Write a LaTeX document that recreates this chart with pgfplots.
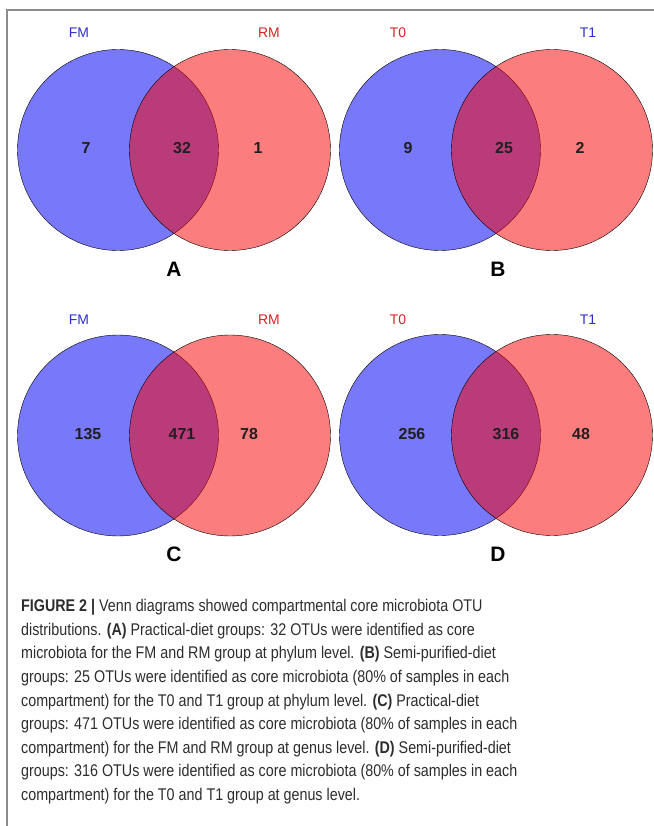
\documentclass[border=0pt]{standalone}
\usepackage{fontspec}
\setmainfont{Liberation Sans}
\newfontfamily\capfont[FakeStretch=0.845]{Liberation Sans}
\usepackage{pgfplots}
\pgfplotsset{compat=1.18}

\definecolor{setblue}{RGB}{0,0,245}
\definecolor{setred}{RGB}{250,0,0}
\definecolor{labblue}{RGB}{45,45,205}
\definecolor{labred}{RGB}{215,35,35}
\definecolor{framegray}{RGB}{140,140,140}
\definecolor{captext}{RGB}{45,45,45}

% circle centres (left set blue, right set red), one row per panel
\pgfplotstableread{
x y
118 150
440 150
118 435.5
440 435
}\leftsets
\pgfplotstableread{
x y
230 150
552 150
230 435.5
552 435
}\rightsets
% counts in each region
\pgfplotstableread{
x y n
86 148 7
182 148 32
258 148 1
408 148 9
504 148 25
580 148 2
88 434 135
182 434 471
249 434 78
412 434 256
506 434 316
581 434 48
}\counts

\begin{document}
\begin{tikzpicture}
\begin{axis}[
  width=654bp, height=826bp, scale only axis,
  xmin=0, xmax=654, ymin=0, ymax=826, y dir=reverse,
  hide axis, clip=false,
]
% frame
\draw[framegray, line width=1.4bp] (axis cs:7,826) -- (axis cs:7,10) -- (axis cs:654,10);

\addplot[only marks, mark=*, mark size=100.5bp,
  mark options={draw=none, fill=setblue, fill opacity=0.53}] table[x=x,y=y] {\leftsets};
\addplot[only marks, mark=*, mark size=100.5bp,
  mark options={draw=none, fill=setred, fill opacity=0.51}] table[x=x,y=y] {\rightsets};

\addplot[only marks, mark=none, point meta=explicit symbolic,
  nodes near coords,
  every node near coord/.append style={anchor=center, inner sep=0pt,
    font=\fontsize{16}{16}\selectfont\bfseries, text=black!88}]
  table[x=x, y=y, meta=n] {\counts};

% set names
\begin{scope}[every node/.style={font=\fontsize{14}{14}\selectfont, inner sep=0pt}]
\node[text=labblue] at (axis cs:79,33) {FM};
\node[text=labred]  at (axis cs:269,33) {RM};
\node[text=labred]  at (axis cs:398,33) {T0};
\node[text=labblue] at (axis cs:588,33) {T1};
\node[text=labblue] at (axis cs:79,319.5) {FM};
\node[text=labred]  at (axis cs:269,319.5) {RM};
\node[text=labred]  at (axis cs:398,319.5) {T0};
\node[text=labblue] at (axis cs:588,319.5) {T1};
\end{scope}

% panel letters
\begin{scope}[every node/.style={font=\fontsize{21}{21}\selectfont\bfseries, inner sep=0pt}]
\node at (axis cs:174,269) {A};
\node at (axis cs:498,269) {B};
\node at (axis cs:174,554) {C};
\node at (axis cs:498,554) {D};
\end{scope}

% caption
\begin{scope}[every node/.style={anchor=base west, inner sep=0pt, text=captext,
    font=\capfont\fontsize{17}{23.5}\selectfont}]
\node at (axis cs:21,611.5) {\textbf{FIGURE 2 |} Venn diagrams showed compartmental core microbiota OTU};
\node at (axis cs:21,635.2) {distributions. \textbf{(A)} Practical-diet groups: 32 OTUs were identified as core};
\node at (axis cs:21,658.8) {microbiota for the FM and RM group at phylum level. \textbf{(B)} Semi-purified-diet};
\node at (axis cs:21,682.4) {groups: 25 OTUs were identified as core microbiota (80\% of samples in each};
\node at (axis cs:21,706) {compartment) for the T0 and T1 group at phylum level. \textbf{(C)} Practical-diet};
\node at (axis cs:21,729.6) {groups: 471 OTUs were identified as core microbiota (80\% of samples in each};
\node at (axis cs:21,753.2) {compartment) for the FM and RM group at genus level. \textbf{(D)} Semi-purified-diet};
\node at (axis cs:21,776.8) {groups: 316 OTUs were identified as core microbiota (80\% of samples in each};
\node at (axis cs:21,800.4) {compartment) for the T0 and T1 group at genus level.};
\end{scope}
\end{axis}
\pgfresetboundingbox
\path[use as bounding box] (current axis.south west) rectangle (current axis.north east);
\end{tikzpicture}
\end{document}
